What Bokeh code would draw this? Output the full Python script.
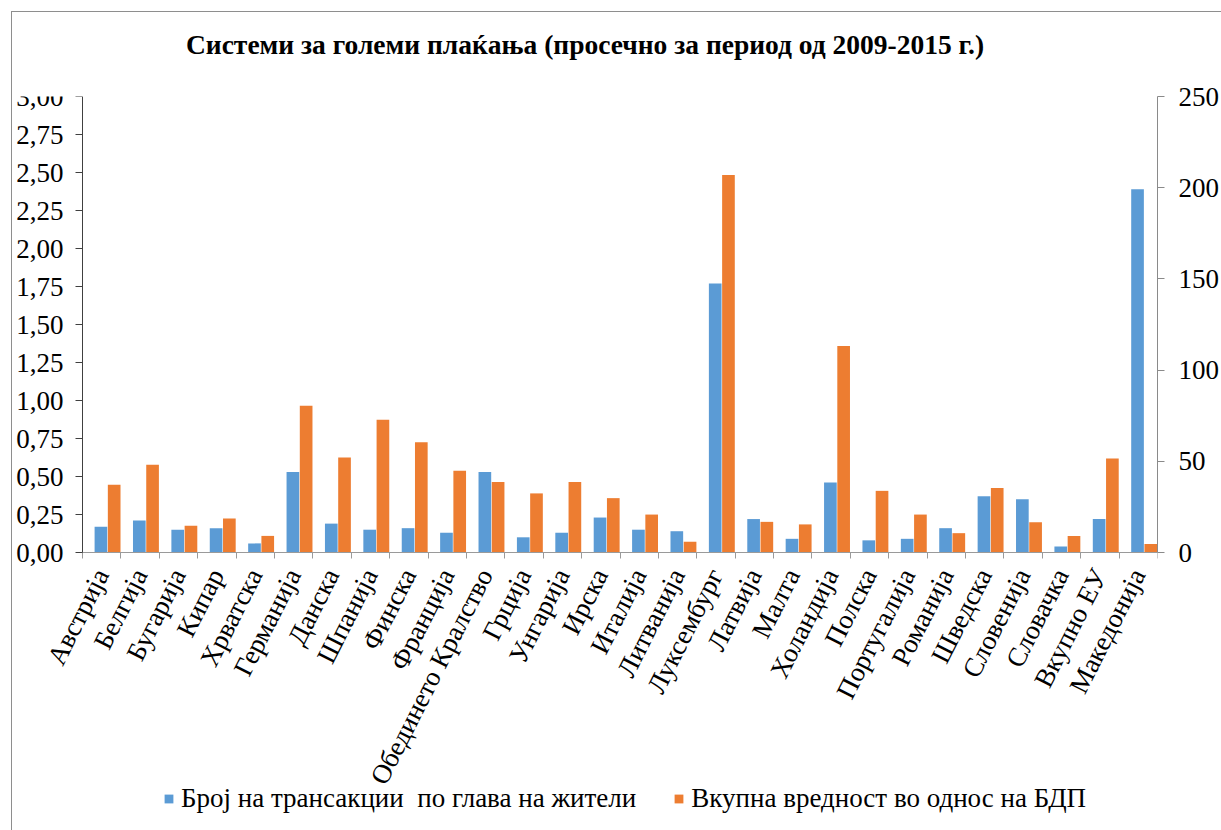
from bokeh.plotting import figure
from bokeh.models import (Range1d, LinearAxis, FixedTicker, ColumnDataSource,
                          Legend, LegendItem, Title)
from bokeh.transform import dodge
from bokeh.embed import file_html
from bokeh.resources import INLINE

# ---------------- data ----------------
categories = ["Австрија", "Белгија", "Бугарија", "Кипар", "Хрватска", "Германија",
              "Данска", "Шпанија", "Финска", "Франција", "Обединето Кралство",
              "Грција", "Унгарија", "Ирска", "Италија", "Литванија", "Луксембург",
              "Латвија", "Малта", "Холандија", "Полска", "Португалија", "Романија",
              "Шведска", "Словенија", "Словачка", "Вкупно ЕУ", "Македонија"]

transactions = [0.17, 0.21, 0.15, 0.16, 0.06, 0.53, 0.19, 0.15, 0.16, 0.13, 0.53,
                0.10, 0.13, 0.23, 0.15, 0.14, 1.77, 0.22, 0.09, 0.46, 0.08, 0.09,
                0.16, 0.37, 0.35, 0.04, 0.22, 2.39]

gdp_ratio = [37.1, 48.1, 14.6, 18.7, 9.1, 80.5, 52.1, 72.8, 60.5, 44.8, 38.6,
             32.4, 38.6, 29.8, 20.8, 5.9, 207.0, 16.8, 15.4, 113.2, 33.8, 20.8,
             10.6, 35.3, 16.6, 9.1, 51.6, 4.6]

series_names = ["Број на трансакции  по глава на жители",
                "Вкупна вредност во однос на БДП"]

left_ticks = [0.0, 0.25, 0.5, 0.75, 1.0, 1.25, 1.5, 1.75, 2.0, 2.25, 2.5, 2.75, 3.0]
left_tick_labels = ["0,00", "0,25", "0,50", "0,75", "1,00", "1,25", "1,50",
                    "1,75", "2,00", "2,25", "2,50", "2,75", "3,00"]
right_ticks = [0, 50, 100, 150, 200, 250]

title_text = "Системи за големи плаќања (просечно за период од 2009-2015 г.)"

BLUE = "#5B9BD5"
ORANGE = "#ED7D31"
FONT = "'Liberation Serif', 'Times New Roman', serif"

# ---------------- layout constants ----------------
LEFT_MAX = 3.0
RIGHT_MAX = 250.0
BAR_AREA_PX = 456      # height of the value area (0 .. max)
EXTRA_PX = 270         # room under the zero line for labels and legend
BAR_WIDTH_PX = 1075    # width of the category area
LEFT_PAD_PX = 70       # room left of the first category for the value labels

n = len(categories)
cat_px = BAR_WIDTH_PX / n
extend_y = EXTRA_PX / BAR_AREA_PX
extend_x = LEFT_PAD_PX / cat_px

centers = [i + 0.5 for i in range(n)]
boundaries = [float(i) for i in range(n + 1)]

source = ColumnDataSource(dict(x=centers, blue=transactions, orange=gdp_ratio,
                               name=categories))

p = figure(frame_width=BAR_WIDTH_PX + LEFT_PAD_PX,
           frame_height=BAR_AREA_PX + EXTRA_PX,
           output_backend="svg", toolbar_location=None,
           x_range=Range1d(-extend_x, n),
           y_range=Range1d(-LEFT_MAX * extend_y, LEFT_MAX),
           min_border_left=0, min_border_right=63, min_border_top=84,
           min_border_bottom=10,
           styles={"margin-left": "11px", "margin-top": "11px",
                   "border": "1px solid #8e8e8e"})
p.extra_y_ranges = {"right": Range1d(-RIGHT_MAX * extend_y, RIGHT_MAX)}

p.grid.visible = False
p.outline_line_color = None
p.background_fill_color = "white"
p.border_fill_color = "white"

r1 = p.vbar(x=dodge("x", -0.02), top="blue", width=0.33, source=source,
            fill_color=BLUE, line_color=None)
r2 = p.vbar(x=dodge("x", 0.325), top="orange", width=0.33, source=source,
            fill_color=ORANGE, line_color=None, y_range_name="right")

# title (outermost) and a blank spacer between title and frame
p.title.text = title_text
p.title.text_font = FONT
p.title.text_font_size = "27.5px"
p.title.text_font_style = "bold"
p.title.align = "center"
p.title.offset = 29
p.title.text_color = "black"
p.add_layout(Title(text=" ", text_font_size="27px", standoff=0), "above")

# x axis, pinned at the zero line
xa = p.xaxis[0]
xa.fixed_location = 0
xa.bounds = (0, n)
xa.ticker = FixedTicker(ticks=centers, minor_ticks=boundaries)
xa.major_label_overrides = {c: name for c, name in zip(centers, categories)}
xa.major_label_orientation = 1.1
xa.major_label_text_font = FONT
xa.major_label_text_font_size = "27px"
xa.major_label_text_color = "black"
xa.major_tick_line_color = None
xa.major_tick_out = 0
xa.major_tick_in = 0
xa.minor_tick_out = 6
xa.minor_tick_in = 0
xa.minor_tick_line_color = "#9a9a9a"
xa.axis_line_color = "#9a9a9a"
xa.major_label_standoff = 12

# left axis, pinned at the first category edge
ya = p.yaxis[0]
ya.fixed_location = 0
ya.bounds = (0, LEFT_MAX)
ya.ticker = FixedTicker(ticks=left_ticks)
ya.major_label_overrides = {t: s for t, s in zip(left_ticks, left_tick_labels)}
ya.major_label_text_font = FONT
ya.major_label_text_font_size = "27px"
ya.major_label_text_color = "black"
ya.major_tick_out = 7
ya.major_tick_in = 0
ya.minor_tick_line_color = None
ya.axis_line_color = "#404040"
ya.major_tick_line_color = "#404040"
ya.major_label_standoff = 12

# right axis
ra = LinearAxis(y_range_name="right", ticker=FixedTicker(ticks=right_ticks),
                bounds=(0, RIGHT_MAX))
ra.major_label_text_font = FONT
ra.major_label_text_font_size = "27px"
ra.major_label_text_color = "black"
ra.major_tick_out = 7
ra.major_tick_in = 0
ra.minor_tick_line_color = None
ra.axis_line_color = "#8a8a8a"
ra.major_tick_line_color = "#8a8a8a"
ra.major_label_standoff = 14
p.add_layout(ra, "right")

# legend inside the (extended) frame, under the category labels
legend = Legend(items=[LegendItem(label=series_names[0], renderers=[r1]),
                       LegendItem(label=series_names[1], renderers=[r2])],
                orientation="horizontal", location=(151, 8),
                border_line_color=None, background_fill_alpha=0,
                label_text_font=FONT, label_text_font_size="27px",
                label_text_color="black",
                glyph_width=11, glyph_height=11, spacing=37, label_standoff=7,
                margin=0, padding=0)
p.add_layout(legend, "center")

open("out.html", "w").write(file_html(p, INLINE))
